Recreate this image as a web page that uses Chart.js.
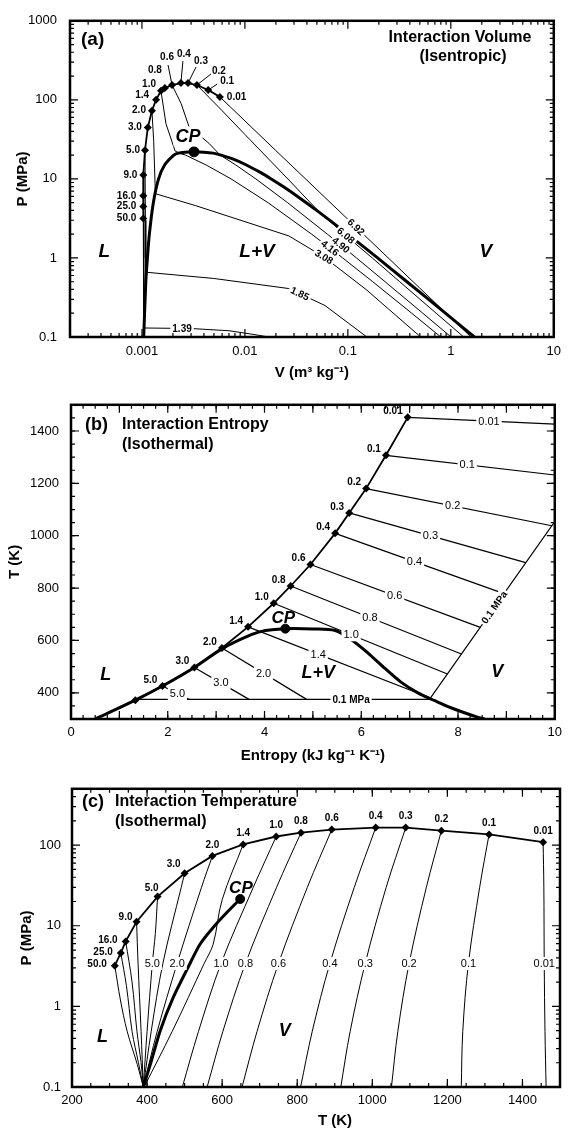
<!DOCTYPE html>
<html>
<head>
<meta charset="utf-8">
<title>Interaction volume, entropy and temperature</title>
<script src="https://cdn.jsdelivr.net/npm/chart.js@4.4.1/dist/chart.umd.min.js"></script>
<style>
  html, body { margin: 0; padding: 0; background: #fff; }
  body { width: 568px; height: 1128px; position: relative; overflow: hidden; }
  canvas { position: absolute; left: 0; }
</style>
</head>
<body>
<canvas id="chartA" width="568" height="385" style="top:0"></canvas>
<canvas id="chartB" width="568" height="385" style="top:385px"></canvas>
<canvas id="chartC" width="568" height="358" style="top:770px"></canvas>
<script>
// ---------- panel (a): P (MPa) against V (m3/kg), log-log ----------
const RATIO_LABELS = ["50.0", "25.0", "16.0", "9.0", "5.0", "3.0", "2.0", "1.4", "1.0", "0.8", "0.6", "0.4", "0.3", "0.2", "0.1", "0.01"];
const A_CHAIN_V = [0.00103, 0.00103, 0.00103, 0.00103, 0.00107, 0.00114, 0.00125, 0.00137, 0.00153, 0.00167, 0.00196, 0.00239, 0.00280, 0.00342, 0.00440, 0.00571];
const A_CHAIN_P = [3.16, 4.47, 6.1, 11.2, 23.0, 44.7, 72.9, 100, 130, 141, 154, 163, 163, 154, 133, 109];
const A_DOME = [[0.00104, 0.1], [0.00109, 0.5], [0.00113, 1], [0.00118, 2], [0.00129, 5], [0.00145, 10], [0.00166, 15],
  [0.00204, 20], [0.00225, 21.2], [0.0026, 21.8], [0.0032, 22.0], [0.0040, 21.8], [0.0049, 21.2], [0.00586, 20],
  [0.0075, 18], [0.01034, 15], [0.01426, 12], [0.01803, 10], [0.02352, 8], [0.03244, 6], [0.04978, 4], [0.0996, 2],
  [0.1944, 1], [0.3749, 0.5], [0.8857, 0.2], [1.694, 0.1]];
const A_CP = [0.0032, 22.0];
const A_S692 = [[0.00571, 109], [0.02, 22.8], [0.1, 3.08], [0.5, 0.415], [1.57, 0.1]];
const A_S608 = [[0.00342, 154], [0.006, 73], [0.01, 36.5], [0.0267, 9.7], [0.05, 4.1], [0.092, 2.0], [0.1726, 1], [0.319, 0.5], [0.72, 0.2], [1.336, 0.1]];
const A_S490 = [[0.00196, 154], [0.0024, 90], [0.00286, 46], [0.0045, 28], [0.00575, 20], [0.00815, 15], [0.01277, 10], [0.026, 5], [0.0632, 2], [0.1212, 1], [0.23, 0.5], [0.534, 0.2], [1.006, 0.1]];
const A_S416 = [[0.00153, 130], [0.00171, 50], [0.0021, 22.5], [0.00235, 21], [0.00265, 20], [0.0042, 15], [0.00734, 10], [0.01678, 5], [0.0445, 2], [0.0891, 1], [0.1745, 0.5], [0.417, 0.2], [0.80, 0.1]];
const A_S308 = [[0.00125, 72.9], [0.0013, 30], [0.00135, 6.5], [0.0033, 4.6], [0.0267, 1.9], [0.0585, 1.03], [0.15, 0.4], [0.51, 0.1]];
const A_S185 = [[0.00107, 23], [0.00108, 3], [0.00109, 0.66], [0.005, 0.55], [0.0267, 0.41], [0.06, 0.25], [0.153, 0.1]];
const A_S139 = [[0.00103, 11.2], [0.00104, 1], [0.00105, 0.13], [0.003, 0.128], [0.007, 0.12], [0.012, 0.108], [0.017, 0.1]];
const A_LIQ = [[0.00103, 3.16], [0.00104, 0.1]];
const A_ISENTROPES = [A_S692, A_S608, A_S490, A_S416, A_S308, A_S185, A_S139];
const A_ISEN_LABELS = ["6.92", "6.08", "4.90", "4.16", "3.08", "1.85", "1.39"];
const A_ISEN_LABEL_V = [0.12, 0.0957, 0.0855, 0.0668, 0.0585, 0.0342, 0.00245];
const A_X_TICKS = [0.001, 0.01, 0.1, 1, 10];
const A_Y_TICKS = [0.1, 1, 10, 100, 1000];

// ---------- panel (b): T (K) against entropy ----------
const B_CHAIN_LABELS = ["", "5.0", "3.0", "2.0", "1.4", "1.0", "0.8", "0.6", "0.4", "0.3", "0.2", "0.1", "0.01"];
const B_CHAIN_S = [1.33, 1.89, 2.55, 3.12, 3.66, 4.19, 4.54, 4.95, 5.46, 5.75, 6.10, 6.51, 6.96];
const B_CHAIN_T = [372, 426, 497, 571, 652, 742, 808, 890, 1009, 1087, 1180, 1307, 1452];
const B_DOME = [[0.5, 300], [1.33, 372], [1.89, 426], [2.55, 497], [3.12, 568], [3.74, 623], [4.02, 638], [4.43, 645],
  [5.0, 644], [5.46, 638], [5.79, 604], [6.14, 552], [6.49, 493], [6.82, 441], [7.17, 400], [7.52, 370], [7.84, 344],
  [8.4, 307], [8.55, 300]];
const B_CP = [4.43, 645];
const B_L001 = [[6.96, 1452], [10, 1426]];
const B_L01 = [[6.51, 1307], [10, 1232]];
const B_L02 = [[6.10, 1180], [9.94, 1038]];
const B_L03 = [[5.75, 1087], [9.40, 897]];
const B_L04 = [[5.46, 1009], [8.95, 779]];
const B_L06 = [[4.95, 890], [8.46, 650]];
const B_L08 = [[4.54, 808], [8.07, 548]];
const B_L10 = [[4.19, 742], [7.78, 472]];
const B_L14 = [[3.66, 652], [7.43, 380]];
const B_L20 = [[3.12, 571], [4.87, 375]];
const B_L30 = [[2.55, 497], [3.68, 375]];
const B_L50 = [[1.89, 426], [2.44, 375]];
const B_LINES = [B_L001, B_L01, B_L02, B_L03, B_L04, B_L06, B_L08, B_L10, B_L14, B_L20, B_L30, B_L50];
const B_LINE_LABELS = ["0.01", "0.1", "0.2", "0.3", "0.4", "0.6", "0.8", "1.0", "1.4", "2.0", "3.0", "5.0"];
const B_LINE_LABEL_S = [8.64, 8.19, 7.89, 7.43, 7.10, 6.69, 6.18, 5.79, 5.11, 3.98, 3.10, 2.20];
const B_ISOBAR = [[1.33, 375], [7.41, 375], [10, 1054]];
const B_ISOBAR_LABEL_S = [5.79, 8.75];
const B_X_TICKS = [0, 2, 4, 6, 8, 10];
const B_Y_TICKS = [400, 600, 800, 1000, 1200, 1400];

// ---------- panel (c): P (MPa) against T (K) ----------
const C_CHAIN_T = [314, 330, 343, 372, 428, 500, 574, 656, 744, 810, 892, 1009, 1089, 1184, 1311, 1455];
const C_CHAIN_P = [3.2, 4.6, 6.4, 11.2, 23, 44.7, 73.6, 102, 128, 143, 156, 165, 165, 151, 136, 109];
const C_SAT = [[390, 0.1], [410, 0.2], [435, 0.5], [470, 1.3], [510, 3.1], [541, 5.9], [580, 10], [615, 15], [648, 21.5]];
const C_CP = [648, 21.5];
const C_L50 = [[314, 3.2], [329, 1.2], [347, 0.49], [374, 0.19], [390, 0.1]];
const C_L25 = [[330, 4.6], [345, 1.8], [360, 0.49], [377, 0.2], [390, 0.1]];
const C_L16 = [[343, 6.4], [360, 2], [373, 0.49], [384, 0.2], [390, 0.1]];
const C_L9 = [[372, 11.2], [376, 3.4], [384, 0.49], [390, 0.1]];
const C_L5 = [[428, 23], [422, 8], [414, 3.4], [400, 0.49], [390, 0.1]];
const C_L3 = [[500, 44.7], [491, 30], [442, 3.4], [411, 0.49], [390, 0.1]];
const C_L2 = [[574, 73.6], [545, 30], [480, 3.4], [427, 0.49], [390, 0.1]];
const C_L14 = [[656, 102], [600, 21], [576, 5.9], [552, 3.4], [467, 0.49], [392, 0.1]];
const C_L10 = [[744, 128], [683, 30], [597, 3.4], [537, 0.49], [494, 0.1]];
const C_L08 = [[810, 143], [745, 30], [662, 3.4], [602, 0.49], [560, 0.1]];
const C_L06 = [[892, 156], [827, 30], [750, 3.4], [693, 0.49], [653, 0.1]];
const C_L04 = [[1009, 165], [952, 30], [887, 3.4], [840, 0.49], [809, 0.1]];
const C_L03 = [[1089, 165], [1037, 30], [981, 3.4], [941, 0.49], [916, 0.1]];
const C_L02 = [[1184, 151], [1144, 30], [1098, 3.4], [1068, 0.49], [1051, 0.1]];
const C_L01 = [[1311, 136], [1286, 30], [1256, 3.4], [1241, 0.49], [1237, 0.1]];
const C_L001 = [[1455, 109], [1457, 30], [1458, 3.4], [1460, 0.49], [1463, 0.1]];
const C_LINES = [C_L50, C_L25, C_L16, C_L9, C_L5, C_L3, C_L2, C_L14, C_L10, C_L08, C_L06, C_L04, C_L03, C_L02, C_L01, C_L001];
const C_LINE_TAGS = ["", "", "", "", "5.0", "", "2.0", "", "1.0", "0.8", "0.6", "0.4", "0.3", "0.2", "0.1", "0.01"];
const C_X_TICKS = [200, 400, 600, 800, 1000, 1200, 1400];
const C_Y_TICKS = [0.1, 1, 10, 100];

// ---------- helpers ----------
const FONT = '"Liberation Sans", Arial, Helvetica, sans-serif';
Chart.defaults.font.family = FONT;
Chart.defaults.color = '#000';

const toXY = pts => pts.map(p => ({x: p[0], y: p[1]}));
const zip = (xs, ys) => xs.map((x, i) => ({x: x, y: ys[i]}));

function lineDs(pts, width, tension) {
  return {data: toXY(pts), showLine: true, borderColor: '#000', borderWidth: width,
    pointRadius: 0, tension: tension, fill: false};
}
function chainDs(xs, ys) {
  return {data: zip(xs, ys), showLine: true, borderColor: '#000', backgroundColor: '#000',
    borderWidth: 1.8, pointStyle: 'rectRot', pointRadius: 4, pointBorderWidth: 0, tension: 0};
}
function dotDs(p, r) {
  return {data: [{x: p[0], y: p[1]}], showLine: false, pointRadius: r, pointStyle: 'circle',
    backgroundColor: '#000', borderColor: '#000'};
}

function axisCfg(o) {
  return {
    type: o.type, min: o.min, max: o.max,
    afterBuildTicks: s => { s.ticks = o.ticks.map(v => ({value: v})); },
    afterFit: s => { if (s.isHorizontal()) s.height = o.size; else s.width = o.size; },
    grid: {display: false, drawTicks: false},
    border: {display: false},
    ticks: {color: '#000', font: {size: 13}, padding: o.pad, autoSkip: false,
      maxRotation: 0, minRotation: 0, callback: v => String(v)},
    title: {display: !!o.title, text: o.title || '', color: '#000',
      font: {size: 15, weight: 'bold'}, padding: o.titlePad || 0}
  };
}

function logMinor(min, max) {
  const out = [];
  for (let e = Math.floor(Math.log10(min)); e <= Math.ceil(Math.log10(max)); e++) {
    for (let m = 2; m <= 9; m++) {
      const v = m * Math.pow(10, e);
      if (v > min && v < max) out.push(v);
    }
  }
  return out;
}
function steps(a, b, d) {
  const out = [];
  for (let v = a; v <= b + 1e-9; v += d) out.push(Math.round(v * 1000) / 1000);
  return out;
}

// inward tick marks on all four sides plus the heavy frame
function framePlugin(t) {
  return {
    id: 'frame',
    afterDraw(chart) {
      const {ctx, chartArea: a} = chart;
      const sx = chart.scales.x, sy = chart.scales.y;
      ctx.save();
      ctx.strokeStyle = '#000';
      ctx.lineWidth = 1.2;
      const tx = (vals, len) => vals.forEach(v => {
        const p = sx.getPixelForValue(v);
        if (p < a.left + 1 || p > a.right - 1) return;
        ctx.beginPath();
        ctx.moveTo(p, a.bottom); ctx.lineTo(p, a.bottom - len);
        ctx.moveTo(p, a.top); ctx.lineTo(p, a.top + len);
        ctx.stroke();
      });
      const ty = (vals, len) => vals.forEach(v => {
        const p = sy.getPixelForValue(v);
        if (p < a.top + 1 || p > a.bottom - 1) return;
        ctx.beginPath();
        ctx.moveTo(a.left, p); ctx.lineTo(a.left + len, p);
        ctx.moveTo(a.right, p); ctx.lineTo(a.right - len, p);
        ctx.stroke();
      });
      tx(t.xMinor, 4); tx(t.xMajor, 8);
      ty(t.yMinor, 4); ty(t.yMajor, 8);
      ctx.lineWidth = 2.5;
      ctx.strokeRect(a.left, a.top, a.width, a.height);
      ctx.restore();
    }
  };
}
function notesPlugin(fn) {
  return {id: 'notes', afterDatasetsDraw(chart) { chart.ctx.save(); fn(chart, chart.ctx); chart.ctx.restore(); }};
}

// point on a polyline (pixel space) where one coordinate reaches a target value
function pointAlong(chart, pts, axis, target) {
  const sx = chart.scales.x, sy = chart.scales.y;
  const px = pts.map(p => [sx.getPixelForValue(p[0]), sy.getPixelForValue(p[1])]);
  const k = axis === 'x' ? 0 : 1;
  const t0 = axis === 'x' ? sx.getPixelForValue(target) : sy.getPixelForValue(target);
  for (let i = 0; i < px.length - 1; i++) {
    const a = px[i], b = px[i + 1];
    if (a[k] === b[k]) continue;
    const t = (t0 - a[k]) / (b[k] - a[k]);
    if (t >= 0 && t <= 1) {
      return {x: a[0] + t * (b[0] - a[0]), y: a[1] + t * (b[1] - a[1]),
        angle: Math.atan2(b[1] - a[1], b[0] - a[0])};
    }
  }
  return null;
}
function boxedText(ctx, text, x, y, font, angle) {
  ctx.save();
  ctx.translate(x, y);
  ctx.rotate(angle || 0);
  ctx.font = font;
  const w = ctx.measureText(text).width;
  const h = parseFloat(font.match(/(\d+(\.\d+)?)px/)[1]);
  ctx.fillStyle = '#fff';
  ctx.fillRect(-w / 2 - 2, -h / 2 - 1, w + 4, h + 2);
  ctx.fillStyle = '#000';
  ctx.textAlign = 'center';
  ctx.textBaseline = 'middle';
  ctx.fillText(text, 0, 0.5);
  ctx.restore();
}
function text(ctx, s, x, y, font, align) {
  ctx.font = font;
  ctx.fillStyle = '#000';
  ctx.textAlign = align || 'center';
  ctx.textBaseline = 'middle';
  ctx.fillText(s, x, y);
}
function dataText(chart, s, xv, yv, font) {
  text(chart.ctx, s, chart.scales.x.getPixelForValue(xv), chart.scales.y.getPixelForValue(yv), font);
}
function chainLabels(chart, dsIndex, labels, place, font) {
  const ctx = chart.ctx;
  chart.getDatasetMeta(dsIndex).data.forEach((pt, i) => {
    if (!labels[i]) return;
    const p = place(i);
    text(ctx, labels[i], pt.x + p[0], pt.y + p[1], font, p[2]);
    if (p[3]) {
      ctx.beginPath();
      ctx.lineWidth = 1;
      ctx.strokeStyle = '#000';
      ctx.moveTo(pt.x, pt.y);
      ctx.lineTo(pt.x + p[3][0], pt.y + p[3][1]);
      ctx.stroke();
    }
  });
}

const BASE = {
  responsive: false, animation: false, events: [],
  plugins: {legend: {display: false}, tooltip: {enabled: false}}
};
const BI = 'italic bold ';

// ---------- chart (a) ----------
const A_PLACE = [
  [-7, 0, 'right'], [-7, 0, 'right'], [-7, 0, 'right'], [-6, 0, 'right'], [-5, 0, 'right'], [-6, 0, 'right'],
  [-6, 0, 'right'], [-7, -5, 'right'], [-5, -7, 'right'], [-3, -18, 'right'],
  [-5, -28, 'center', [-4, -20]], [3, -29, 'center', [2, -22]], [13, -22, 'center', [8, -16]],
  [22, -14, 'center', [14, -11]], [19, -9, 'center', [9, -6]], [7, 0, 'left']
];
new Chart(document.getElementById('chartA'), {
  type: 'scatter',
  data: {datasets: [
    dotDs(A_CP, 5),
    chainDs(A_CHAIN_V, A_CHAIN_P),
    lineDs(A_DOME, 3, 0.3),
    ...A_ISENTROPES.map(p => lineDs(p, 1, 0)),
    lineDs(A_LIQ, 1, 0)
  ]},
  options: {...BASE,
    layout: {padding: {top: 16, right: 13, left: 0, bottom: 0}},
    scales: {
      x: axisCfg({type: 'logarithmic', min: 0.0002, max: 10, ticks: A_X_TICKS, size: 48, pad: 7,
        title: 'V (m\u00B3 kg\u207B\u00B9)', titlePad: {bottom: 3}}),
      y: axisCfg({type: 'logarithmic', min: 0.1, max: 1000, ticks: A_Y_TICKS, size: 70, pad: 13,
        title: 'P (MPa)', titlePad: {top: 14}})
    }
  },
  plugins: [
    framePlugin({xMajor: A_X_TICKS, xMinor: logMinor(0.0002, 10), yMajor: A_Y_TICKS, yMinor: logMinor(0.1, 1000)}),
    notesPlugin((chart, ctx) => {
      A_ISENTROPES.forEach((pts, i) => {
        const p = pointAlong(chart, pts, 'x', A_ISEN_LABEL_V[i]);
        if (p) boxedText(ctx, A_ISEN_LABELS[i], p.x, p.y, 'bold 10px ' + FONT, i === 6 ? 0 : p.angle);
      });
      chainLabels(chart, 1, RATIO_LABELS, i => A_PLACE[i], 'bold 10px ' + FONT);
      dataText(chart, 'L', 0.00043, 1.19, BI + '19px ' + FONT);
      dataText(chart, 'L+V', 0.0131, 1.19, BI + '19px ' + FONT);
      dataText(chart, 'V', 2.19, 1.19, BI + '19px ' + FONT);
      const cp = [chart.scales.x.getPixelForValue(0.0028), chart.scales.y.getPixelForValue(34.5)];
      boxedText(ctx, 'CP', cp[0], cp[1], BI + '18px ' + FONT, 0);
      text(ctx, '(a)', 81, 40, 'bold 19px ' + FONT, 'left');
      text(ctx, 'Interaction Volume', 460, 38, 'bold 16px ' + FONT);
      text(ctx, '(Isentropic)', 463, 57, 'bold 16px ' + FONT);
    })
  ]
});

// ---------- chart (b) ----------
new Chart(document.getElementById('chartB'), {
  type: 'scatter',
  data: {datasets: [
    dotDs(B_CP, 4.5),
    chainDs(B_CHAIN_S, B_CHAIN_T),
    lineDs(B_DOME, 3, 0.3),
    lineDs(B_ISOBAR, 1.2, 0),
    ...B_LINES.map(p => lineDs(p, 1.2, 0))
  ]},
  options: {...BASE,
    layout: {padding: {top: 12, right: 11, left: 0, bottom: 0}},
    scales: {
      x: axisCfg({type: 'linear', min: 0, max: 10, ticks: B_X_TICKS, size: 51, pad: 6,
        title: 'Entropy (kJ kg\u207B\u00B9 K\u207B\u00B9)', titlePad: {bottom: 5}}),
      y: axisCfg({type: 'linear', min: 300, max: 1500, ticks: B_Y_TICKS, size: 71, pad: 12,
        title: 'T (K)', titlePad: {top: 6}})
    }
  },
  plugins: [
    framePlugin({xMajor: steps(0, 10, 1), xMinor: steps(0, 10, 0.25), yMajor: B_Y_TICKS, yMinor: steps(300, 1500, 50)}),
    notesPlugin((chart, ctx) => {
      B_LINES.forEach((pts, i) => {
        const p = pointAlong(chart, pts, 'x', B_LINE_LABEL_S[i]);
        if (p) boxedText(ctx, B_LINE_LABELS[i], p.x, p.y, '11px ' + FONT, 0);
      });
      const h = pointAlong(chart, B_ISOBAR, 'x', B_ISOBAR_LABEL_S[0]);
      boxedText(ctx, '0.1 MPa', h.x, h.y, 'bold 10px ' + FONT, 0);
      const r = pointAlong(chart, B_ISOBAR, 'x', B_ISOBAR_LABEL_S[1]);
      boxedText(ctx, '0.1 MPa', r.x, r.y, 'bold 10px ' + FONT, r.angle);
      chainLabels(chart, 1, B_CHAIN_LABELS, () => [-5, -6, 'right'], 'bold 10px ' + FONT);
      dataText(chart, 'L', 0.72, 467, BI + '18px ' + FONT);
      dataText(chart, 'L+V', 5.11, 474, BI + '18px ' + FONT);
      dataText(chart, 'V', 8.81, 478, BI + '18px ' + FONT);
      dataText(chart, 'CP', 4.39, 686, BI + '17px ' + FONT);
      text(ctx, '(b)', 85, 40, 'bold 18px ' + FONT, 'left');
      text(ctx, 'Interaction Entropy', 122, 40, 'bold 16px ' + FONT, 'left');
      text(ctx, '(Isothermal)', 122, 60, 'bold 16px ' + FONT, 'left');
    })
  ]
});

// ---------- chart (c) ----------
const C_PLACE = i => {
  if (i <= 2) return [-8, -1, 'right'];
  if (i === 3) return [-11, -5, 'center'];
  if (i === 4) return [-6, -8, 'center'];
  if (i === 5) return [-11, -9, 'center'];
  return [0, -11, 'center'];
};
new Chart(document.getElementById('chartC'), {
  type: 'scatter',
  data: {datasets: [
    dotDs(C_CP, 4.5),
    chainDs(C_CHAIN_T, C_CHAIN_P),
    lineDs(C_SAT, 3, 0.25),
    ...C_LINES.map(p => lineDs(p, 1, 0.35))
  ]},
  options: {...BASE,
    layout: {padding: {top: 11, right: 8, left: 0, bottom: 0}},
    scales: {
      x: axisCfg({type: 'linear', min: 200, max: 1500, ticks: C_X_TICKS, size: 41, pad: 6}),
      y: axisCfg({type: 'logarithmic', min: 0.1, max: 500, ticks: C_Y_TICKS, size: 72, pad: 11,
        title: 'P (MPa)', titlePad: {top: 18}})
    }
  },
  plugins: [
    framePlugin({xMajor: C_X_TICKS, xMinor: steps(200, 1500, 50), yMajor: C_Y_TICKS, yMinor: logMinor(0.1, 500)}),
    notesPlugin((chart, ctx) => {
      C_LINES.forEach((pts, i) => {
        if (!C_LINE_TAGS[i]) return;
        const p = pointAlong(chart, pts, 'y', 3.4);
        if (p) boxedText(ctx, C_LINE_TAGS[i], p.x, p.y, '11px ' + FONT, 0);
      });
      chainLabels(chart, 1, RATIO_LABELS, C_PLACE, 'bold 10px ' + FONT);
      dataText(chart, 'CP', 650, 29.5, BI + '17px ' + FONT);
      dataText(chart, 'L', 281, 0.42, BI + '18px ' + FONT);
      dataText(chart, 'V', 767, 0.49, BI + '18px ' + FONT);
      text(ctx, '(c)', 82, 32, 'bold 18px ' + FONT, 'left');
      text(ctx, 'Interaction Temperature', 115, 32, 'bold 16px ' + FONT, 'left');
      text(ctx, '(Isothermal)', 115, 52, 'bold 16px ' + FONT, 'left');
      text(ctx, 'T (K)', 335, 351, 'bold 15px ' + FONT);
    })
  ]
});
</script>
</body>
</html>
